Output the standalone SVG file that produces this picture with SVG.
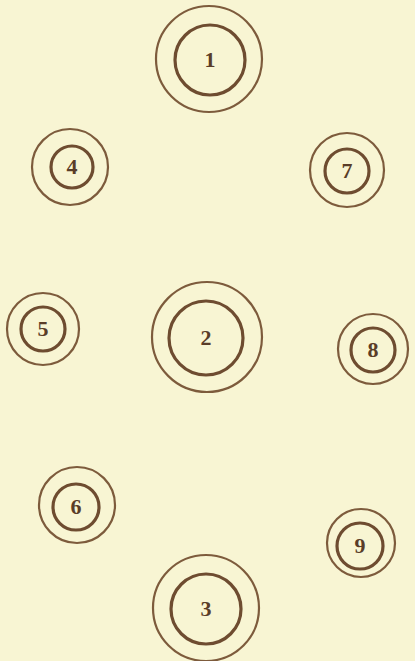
<svg xmlns="http://www.w3.org/2000/svg" width="415" height="661" viewBox="0 0 415 661">
<style>
.o{fill:none;stroke:#7d5b3c;stroke-width:2.2}
.i{fill:none;stroke:#6e4c30;stroke-width:3.2}
.t{font-family:"Liberation Serif",serif;font-size:22px;font-weight:bold;fill:#5a3d28;text-anchor:middle}
</style>
<rect width="415" height="661" fill="#f8f5d3"/>
<g id="n1"><circle class="o" cx="209" cy="59" r="53"/><circle class="i" cx="210" cy="60" r="35"/><text class="t" x="210" y="67">1</text></g>
<g id="n4"><circle class="o" cx="70" cy="167" r="38"/><circle class="i" cx="72" cy="167" r="21"/><text class="t" x="72" y="174">4</text></g>
<g id="n7"><circle class="o" cx="347" cy="170" r="37"/><circle class="i" cx="347" cy="171" r="22"/><text class="t" x="347" y="178">7</text></g>
<g id="n5"><circle class="o" cx="43" cy="329" r="36"/><circle class="i" cx="43" cy="329" r="22"/><text class="t" x="43" y="336" font-weight="normal">5</text></g>
<g id="n2"><circle class="o" cx="207" cy="337" r="55"/><circle class="i" cx="206" cy="338" r="37"/><text class="t" x="206" y="345">2</text></g>
<g id="n8"><circle class="o" cx="373" cy="349" r="35"/><circle class="i" cx="373" cy="350" r="22"/><text class="t" x="373" y="357" font-weight="normal">8</text></g>
<g id="n6"><circle class="o" cx="77" cy="505" r="38"/><circle class="i" cx="76" cy="507" r="23"/><text class="t" x="76" y="514">6</text></g>
<g id="n9"><circle class="o" cx="361" cy="543" r="34" stroke="#9a7a5a"/><circle class="i" cx="360" cy="546" r="23" stroke-width="2" stroke="#8a6a4a"/><text class="t" x="360" y="553" font-weight="normal" fill="#8a6a4a">9</text></g>
<g id="n3"><circle class="o" cx="206" cy="608" r="53"/><circle class="i" cx="206" cy="609" r="35"/><text class="t" x="206" y="616" font-weight="normal" fill="#8a6a4a">3</text></g>
<g id="connectors"></g>
</svg>
